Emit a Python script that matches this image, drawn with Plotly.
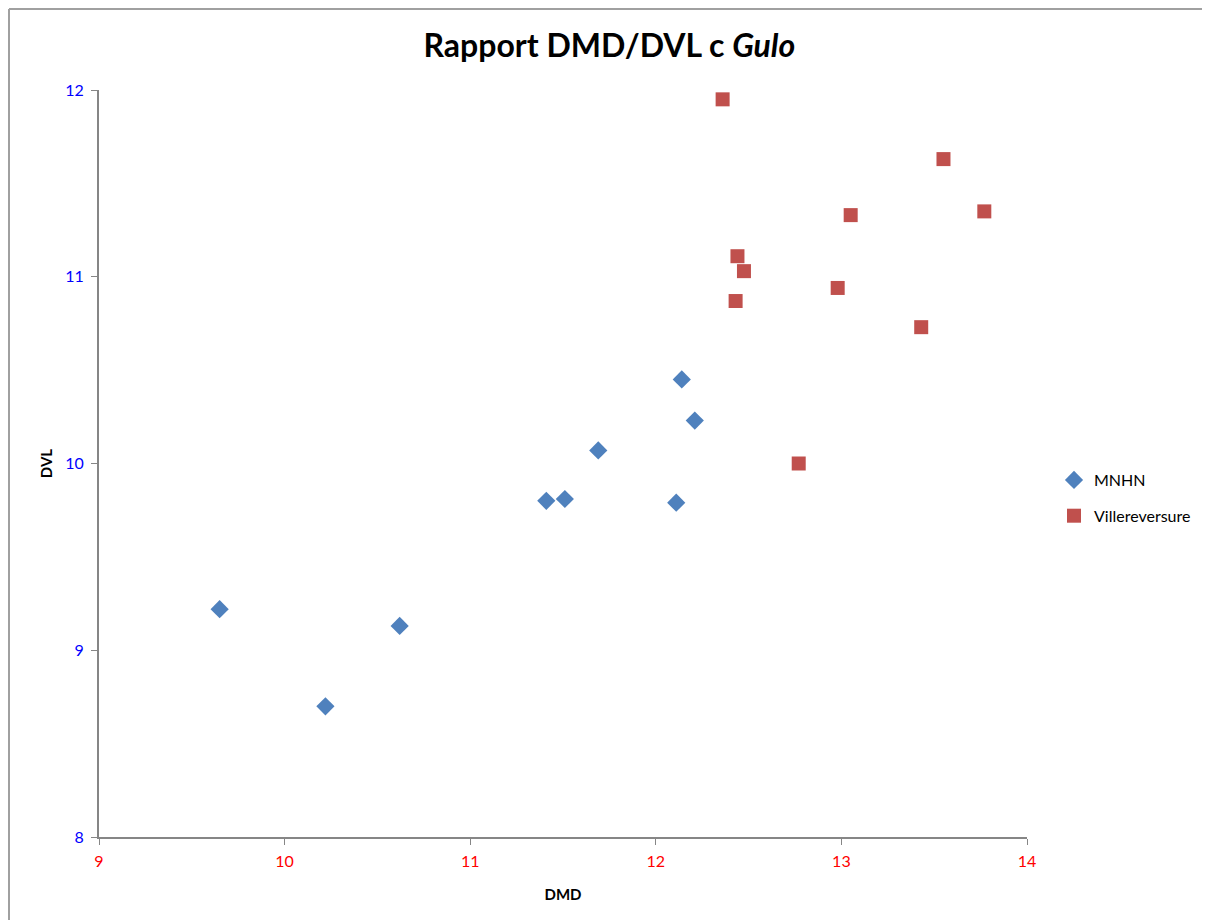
import plotly.graph_objects as go

mnhn_dmd = [9.65, 10.22, 10.62, 11.41, 11.51, 11.69, 12.11, 12.14, 12.21]
mnhn_dvl = [9.22, 8.70, 9.13, 9.80, 9.81, 10.07, 9.79, 10.45, 10.23]

vill_dmd = [12.36, 12.44, 12.475, 12.43, 12.77, 12.98, 13.05, 13.43, 13.55, 13.77]
vill_dvl = [11.95, 11.11, 11.03, 10.87, 10.00, 10.94, 11.33, 10.73, 11.63, 11.35]

x_ticks = [9, 10, 11, 12, 13, 14]
y_ticks = [8, 9, 10, 11, 12]

FONT = "Lato"

fig = go.Figure()
fig.add_trace(go.Scatter(
    x=mnhn_dmd, y=mnhn_dvl, mode="markers", name="MNHN", legendgroup="a",
    marker=dict(symbol="diamond", size=14, color="#4f81bd", line=dict(width=0)),
))
fig.add_trace(go.Scatter(
    x=vill_dmd, y=vill_dvl, mode="markers", name="Villereversure", legendgroup="b",
    marker=dict(symbol="square", size=14, color="#c0504d", line=dict(width=0)),
))

# page body has an 8px margin; coordinates below are in figure pixels
W, H = 1202, 912
L, T = 91, 82
pw, ph = 928, 747
R = W - L - pw
B = H - T - ph

def px(x):
    return (x - L) / pw

def py(y):
    return (H - B - y) / ph

fig.update_layout(
    width=W, height=H,
    margin=dict(l=L, r=R, t=T, b=B),
    paper_bgcolor="white", plot_bgcolor="white",
    font=dict(family=FONT, color="black"),
    title=dict(
        text="<b>Rapport DMD/DVL c <i>Gulo</i></b>",
        x=0.55, xref="paper", xanchor="center",
        y=1 - 38 / H, yanchor="middle",
        font=dict(size=32, family=FONT, color="black"),
    ),
    showlegend=True,
    legend=dict(
        x=px(1046), y=py(455), xanchor="left", yanchor="top",
        font=dict(size=16, family=FONT, color="black"),
        traceorder="grouped", tracegroupgap=12,
        bgcolor="rgba(0,0,0,0)",
    ),
    xaxis=dict(
        range=[9, 14], tickvals=x_ticks, ticktext=[str(v) for v in x_ticks],
        showgrid=False, zeroline=False,
        showline=True, linecolor="#868686", linewidth=2,
        ticks="outside", ticklen=6, tickcolor="#868686", tickwidth=1,
        ticklabelstandoff=3,
        tickfont=dict(color="red", size=16, family=FONT),
        title=dict(text="<b>DMD</b>", font=dict(size=15, family=FONT), standoff=20),
    ),
    yaxis=dict(
        range=[8, 12], tickvals=y_ticks, ticktext=[str(v) for v in y_ticks],
        showgrid=False, zeroline=False,
        showline=True, linecolor="#868686", linewidth=2,
        ticks="outside", ticklen=6, tickcolor="#868686", tickwidth=1,
        ticklabelstandoff=4,
        tickfont=dict(color="blue", size=16, family=FONT),
        title=dict(text="<b>DVL</b>", font=dict(size=15, family=FONT), standoff=9),
    ),
    shapes=[
        dict(type="line", xref="paper", yref="paper",
             x0=px(1), x1=px(W + 5), y0=py(1), y1=py(1),
             line=dict(color="#a0a0a0", width=2)),
        dict(type="line", xref="paper", yref="paper",
             x0=px(1), x1=px(1), y0=py(1), y1=py(H + 5),
             line=dict(color="#a0a0a0", width=2)),
    ],
)

fig.write_html("out.html")
